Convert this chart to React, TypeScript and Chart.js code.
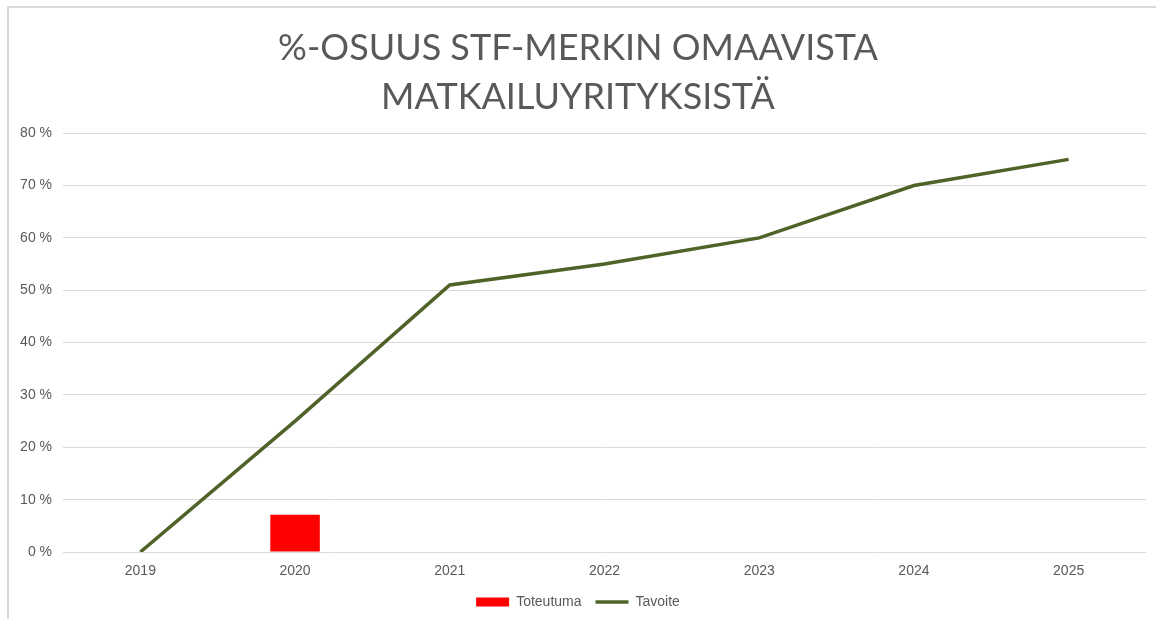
import React, { useEffect, useRef } from "react";
import { Chart, registerables } from "chart.js";

Chart.register(...registerables);

const categories = ["2019", "2020", "2021", "2022", "2023", "2024", "2025"];
const toteutuma = [null, 7.1, null, null, null, null, null];
const tavoite = [0, 25, 51, 55, 60, 70, 75];
const titleLines = ["%-OSUUS STF-MERKIN OMAAVISTA", "MATKAILUYRITYKSISTÄ"];

export default function App() {
  const ref = useRef<HTMLCanvasElement | null>(null);

  useEffect(() => {
    if (!ref.current) return;
    const chart = new Chart(ref.current, {
      type: "bar",
      data: {
        labels: categories,
        datasets: [
          {
            type: "bar",
            label: "Toteutuma",
            data: toteutuma as any,
            backgroundColor: "#ff0000",
            borderWidth: 0,
            barPercentage: 0.32,
            categoryPercentage: 1,
            pointStyle: "rect",
          },
          {
            type: "line",
            label: "Tavoite",
            data: tavoite,
            borderColor: "#4f6228",
            backgroundColor: "#4f6228",
            borderWidth: 3.5,
            pointRadius: 0,
            pointStyle: "line",
            tension: 0,
          } as any,
        ],
      },
      options: {
        animation: false,
        responsive: false,
        maintainAspectRatio: false,
        layout: { padding: { left: 10, right: 10, top: 0, bottom: 0 } },
        plugins: {
          title: {
            display: true,
            text: titleLines,
            color: "#595959",
            font: { family: "Lato", size: 36, weight: "normal", lineHeight: 1.35 },
            padding: { top: 24, bottom: 12 },
          },
          legend: {
            position: "bottom",
            labels: {
              usePointStyle: true,
              pointStyleWidth: 33,
              boxHeight: 9,
              color: "#595959",
              padding: 14,
              font: { family: "Liberation Sans", size: 14 },
            },
          },
          tooltip: { enabled: false },
        },
        scales: {
          x: {
            afterFit: (scale: any) => {
              scale.height = 29;
            },
            grid: { display: false },
            border: { display: false },
            ticks: {
              color: "#595959",
              font: { family: "Liberation Sans", size: 14 },
              padding: 3,
            },
          },
          y: {
            min: 0,
            max: 80,
            afterFit: (scale: any) => {
              scale.width = 53;
            },
            grid: { color: "#d9d9d9", drawTicks: false },
            border: { display: false },
            ticks: {
              stepSize: 10,
              color: "#595959",
              font: { family: "Liberation Sans", size: 14 },
              padding: 11,
              callback: (v: any) => v + " %",
            },
          },
        },
      },
    });
    return () => chart.destroy();
  }, []);

  return (
    <div
      style={{
        position: "fixed",
        left: 0,
        top: 0,
        width: 1156,
        height: 619,
        background: "#ffffff",
      }}
    >
      <div
        style={{
          position: "absolute",
          left: 7,
          top: 6,
          right: 0,
          bottom: 0,
          borderLeft: "2px solid #d9d9d9",
          borderTop: "2px solid #d9d9d9",
        }}
      />
      <canvas
        ref={ref}
        width={1156}
        height={619}
        style={{ position: "absolute", left: 0, top: 0, width: 1156, height: 619 }}
      />
    </div>
  );
}
